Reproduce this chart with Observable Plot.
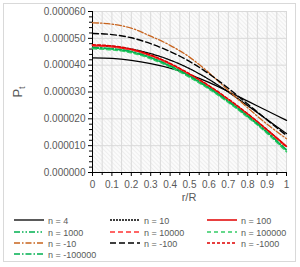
<!DOCTYPE html>
<html><head><meta charset="utf-8">
<script src="https://cdn.jsdelivr.net/npm/d3@7"></script>
<script src="https://cdn.jsdelivr.net/npm/@observablehq/plot@0.6"></script>
<style>
body{margin:0;background:#fff;font-family:"Liberation Sans",Arial,sans-serif;}
#frame{position:absolute;left:3px;top:3px;width:291px;height:257px;border:1px solid #d9d9d9;}
#chart{position:absolute;left:0;top:0;}
#legend{position:absolute;left:0;top:210px;}
</style></head><body>
<div id="frame"></div>
<div id="chart"></div>
<div id="legend"></div>
<script>
// r/R positions
const r = [0, 0.1, 0.2, 0.3, 0.4, 0.5, 0.6, 0.7, 0.8, 0.9, 1.0];
// Pt values in units of 1e-6
const n4      = [42.7, 42.5, 41.8, 40.6, 38.9, 36.5, 33.6, 30.2, 26.6, 23.0, 19.4];
const n10     = [47.3, 47.0, 46.0, 44.3, 41.9, 38.7, 34.7, 30.0, 24.9, 19.7, 14.5];
const n100    = [47.4, 47.0, 45.8, 43.6, 40.5, 36.6, 32.2, 27.2, 21.8, 15.9, 9.8];
const n1000   = [46.4, 46.0, 44.9, 42.7, 39.6, 35.8, 31.4, 26.4, 20.9, 14.9, 8.2];
const n10000  = [47.2, 46.8, 45.6, 43.4, 40.3, 36.4, 32.0, 27.0, 21.5, 15.6, 9.4];
const n100000 = [46.1, 45.7, 44.6, 42.4, 39.3, 35.5, 31.1, 26.1, 20.6, 14.6, 7.7];
const nm10    = [55.8, 55.3, 53.8, 50.8, 47.4, 43.0, 37.2, 30.6, 24.1, 18.0, 12.6];
const nm100   = [51.8, 51.4, 50.2, 48.0, 45.1, 41.4, 36.8, 31.4, 25.5, 19.6, 13.8];
const nm1000  = [47.6, 47.2, 46.0, 43.8, 40.7, 36.8, 32.4, 27.4, 21.9, 16.0, 9.6];
const nm100000= [46.6, 46.2, 45.1, 42.9, 39.8, 36.0, 31.6, 26.6, 21.1, 15.1, 8.4];

const names = ["n = 4","n = 10","n = 100","n = 1000","n = 10000","n = 100000","n = -10","n = -100","n = -1000","n = -100000"];
const seriesValues = [n4, n10, n100, n1000, n10000, n100000, nm10, nm100, nm1000, nm100000];
const colors = ["#000000","#000000","#e00000","#00b050","#ff3333","#33cc66","#c8641e","#000000","#e00000","#00b050"];
const dashes = [null,"2,1","none","6,2,1.5,2,1.5,2","5,3","4,3","6,2,1.5,2","6,3","3,2","6,2,1.5,2"];
const widths = [1.3,1.3,1.5,1.5,1.5,1.5,1.3,1.4,1.4,1.5];

const xTicks = [0,0.1,0.2,0.3,0.4,0.5,0.6,0.7,0.8,0.9,1];
const xMinor = [0.05,0.15,0.25,0.35,0.45,0.55,0.65,0.75,0.85,0.95];
const yTicks = [0,10,20,30,40,50,60];
const yMinor = [2,4,6,8,12,14,16,18,22,24,26,28,32,34,36,38,42,44,46,48,52,54,56,58];

const lineMarks = seriesValues.map((vals, k) =>
  Plot.line(vals.map((v, i) => ({r: r[i], v})), {
    x: "r", y: "v", curve: "monotone-x",
    stroke: colors[k], strokeWidth: widths[k],
    strokeDasharray: dashes[k] || "none"
  })
);

const chart = Plot.plot({
  width: 300, height: 207,
  marginLeft: 92, marginRight: 14, marginTop: 11, marginBottom: 35,
  style: {fontFamily: '"Liberation Sans", Arial, sans-serif', fontSize: "10px", color: "#595959", background: "transparent", overflow: "visible"},
  x: {domain: [0, 1]},
  y: {domain: [0, 60]},
  marks: [
    Plot.frame({fill: "url(#hatch)", stroke: null}),
    Plot.gridX([...xTicks, ...xMinor], {stroke: "#d9d9d9", strokeOpacity: 1}),
    Plot.gridY(yTicks, {stroke: "#d9d9d9", strokeOpacity: 1}),
    Plot.axisX(xTicks, {tickSize: 4, tickPadding: 4, tickFormat: d => String(d), stroke: "#000", label: null}),
    Plot.axisX(xMinor, {tickSize: 3, text: null, stroke: "#000", label: null}),
    Plot.axisY(yTicks, {tickSize: 4, tickPadding: 3, tickFormat: d => (d * 1e-6).toFixed(6), stroke: "#000", label: null}),
    Plot.axisY(yMinor, {tickSize: 3, text: null, stroke: "#000", label: null}),
    Plot.ruleX([0], {stroke: "#000"}),
    Plot.ruleY([0], {stroke: "#000"}),
    ...lineMarks
  ]
});
document.getElementById("chart").appendChild(chart);
const svg = d3.select(chart);
svg.insert("defs", ":first-child").html(
  '<pattern id="hatch" width="3" height="3" patternUnits="userSpaceOnUse" patternTransform="rotate(-45)">' +
  '<rect width="3" height="3" fill="#fbfbfb"/><line x1="0" y1="0" x2="0" y2="3" stroke="#e2e2e2" stroke-width="1"/></pattern>');
svg.append("text").attr("x", 189).attr("y", 201).attr("text-anchor", "middle")
  .attr("fill", "#595959").style("font-size", "11px").text("r/R");
const yl = svg.append("text").attr("transform", "translate(22,92) rotate(-90)")
  .attr("text-anchor", "middle").attr("fill", "#595959").style("font-size", "13px");
yl.append("tspan").text("P");
yl.append("tspan").attr("dy", 3).style("font-size", "9px").text("t");

// Legend
const leg = d3.select("#legend").append("svg").attr("width", 300).attr("height", 55)
  .style("font-family", '"Liberation Sans", Arial, sans-serif');
const colX = [14, 110, 207];
const rowY = [10, 22, 33, 44];
names.forEach((nm, k) => {
  const cx = colX[k % 3], cy = rowY[Math.floor(k / 3)];
  leg.append("line").attr("x1", cx).attr("x2", cx + 30).attr("y1", cy).attr("y2", cy)
    .attr("stroke", colors[k]).attr("stroke-width", widths[k])
    .attr("stroke-dasharray", dashes[k] || null);
  leg.append("text").attr("x", cx + 34).attr("y", cy + 3.5).attr("fill", "#595959")
    .style("font-size", "9px").text(nm);
});
</script>
</body></html>
